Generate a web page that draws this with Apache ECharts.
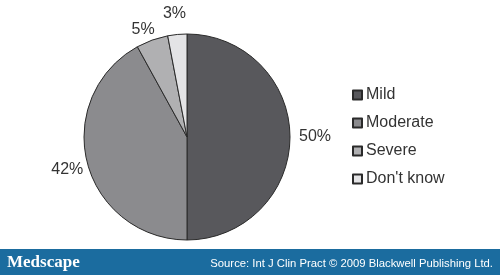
<!DOCTYPE html>
<html><head><meta charset="utf-8">
<script src="https://cdn.jsdelivr.net/npm/echarts@6/dist/echarts.min.js"></script>
<style>html,body{margin:0;padding:0;background:#fff}#c{width:500px;height:275px}</style>
</head><body><div id="c"></div>
<script>
const categories = ["Mild", "Moderate", "Severe", "Don't know"];
const values = [50, 42, 5, 3];
const sliceColors = ["#58585c", "#8b8b8e", "#b0b0b2", "#e4e4e6"];
const sourceText = "Source: Int J Clin Pract \u00a9 2009 Blackwell Publishing Ltd.";
const logoText = "Medscape";

const lineLen = [[6, 3], [3, 1], [13, 0], [24, 0]];
const labelShift = [[-5, 0], [5, 6], [12, 2], [16, 3]];

const chart = echarts.init(document.getElementById('c'), null, {renderer: 'canvas'});
chart.setOption({
  animation: false,
  backgroundColor: '#fff',
  legend: {
    orient: 'vertical', left: 352, top: 87, padding: 0, itemWidth: 9, itemHeight: 9, itemGap: 12,
    icon: 'rect',
    textStyle: {fontFamily: 'Liberation Sans, Arial, sans-serif', fontSize: 16, color: '#333', lineHeight: 16, padding: [0,0,0,-1]},
    data: categories
  },
  series: [{
    type: 'pie', center: [187, 137], radius: 103, startAngle: 90, clockwise: true,
    avoidLabelOverlap: false,
    itemStyle: {borderColor: '#2a2a2a', borderWidth: 1},
    label: {show: true, position: 'outside', formatter: '{c}%', fontFamily: 'Liberation Sans, Arial, sans-serif', fontSize: 16, color: '#333'},
    labelLine: {show: false},
    emphasis: {disabled: true},
    labelLayout: function (p) { const s = labelShift[p.dataIndex]; return {dx: s[0], dy: s[1]}; },
    data: categories.map((n, i) => ({
      name: n, value: values[i],
      itemStyle: {color: sliceColors[i]},
      labelLine: {show: false, length: lineLen[i][0], length2: lineLen[i][1]}
    }))
  }],
  graphic: [
    {type: 'rect', left: 0, top: 249, shape: {width: 500, height: 26}, style: {fill: '#1b6c9f'}, silent: true},
    {type: 'text', left: 7, top: 254, style: {text: logoText, fill: '#fff', font: 'bold 17px "Liberation Serif", "Times New Roman", serif'}},
    {type: 'text', right: 7, top: 258, style: {text: sourceText, fill: '#fff', font: '11.3px "Liberation Sans", Arial, sans-serif'}}
  ]
});
</script></body></html>
